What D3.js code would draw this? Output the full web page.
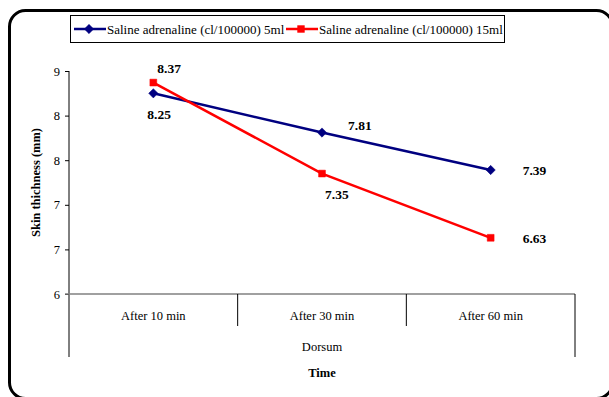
<!DOCTYPE html>
<html><head><meta charset="utf-8">
<script src="https://cdn.jsdelivr.net/npm/d3@7"></script>
<style>body{margin:0;background:#fff}svg{display:block}</style>
</head><body><svg id="c" width="609" height="397" font-family="'Liberation Serif', 'Times New Roman', Times, serif"></svg>
<script>
const categories = ["After 10 min", "After 30 min", "After 60 min"];
const groupLabel = "Dorsum";
const seriesNames = ["Saline adrenaline (cl/100000) 5ml", "Saline adrenaline (cl/100000) 15ml"];
const series5ml = [8.25, 7.81, 7.39];
const series15ml = [8.37, 7.35, 6.63];
const yTicks = [6, 6.5, 7, 7.5, 8, 8.5];
const colors = ["#000080", "#FF0000"];

(function () {
const FF = "'Liberation Serif', 'Times New Roman', Times, serif";
const svg = d3.select("#c");
// outer frame
svg.append("rect").attr("x", 9.5).attr("y", 10.5).attr("width", 603).attr("height", 388)
  .attr("rx", 16).attr("fill", "none").attr("stroke", "#000").attr("stroke-width", 3);

const pL = 69, pR = 575, pT = 71, pB = 294;
const x = d3.scaleBand().domain(categories).range([pL, pR]);
const y = d3.scaleLinear().domain([6, 8.5]).range([pB, pT]);

// y axis
const yAxis = d3.axisLeft(y).tickValues(yTicks).tickSize(4).tickFormat(d => d3.format(".0f")(Math.round(d)));
const gy = svg.append("g").attr("transform", `translate(${pL},0)`).call(yAxis).attr("font-family", FF);
gy.select(".domain").remove();
gy.selectAll("line").attr("stroke", "#000");
gy.selectAll("text").attr("font-size", 12.5).attr("fill", "#000").attr("x", -9);
svg.append("line").attr("x1", pL).attr("x2", pL).attr("y1", pT).attr("y2", 357).attr("stroke", "#000");

// x axis baseline
svg.append("line").attr("x1", pL - 4).attr("x2", pR).attr("y1", pB).attr("y2", pB).attr("stroke", "#808080").attr("stroke-width", 1.5);
// category separators
categories.forEach((c, i) => {
  if (i > 0) svg.append("line").attr("x1", x(c)).attr("x2", x(c)).attr("y1", pB).attr("y2", 326).attr("stroke", "#000");
  svg.append("text").attr("x", x(c) + x.bandwidth() / 2).attr("y", 320).attr("text-anchor", "middle")
    .attr("font-size", 12.5).text(c);
});
svg.append("line").attr("x1", pR).attr("x2", pR).attr("y1", pB).attr("y2", 357).attr("stroke", "#000");
svg.append("text").attr("x", (pL + pR) / 2).attr("y", 351).attr("text-anchor", "middle").attr("font-size", 12.5).text(groupLabel);
svg.append("text").attr("x", (pL + pR) / 2).attr("y", 377).attr("text-anchor", "middle").attr("font-size", 12.5)
  .attr("font-weight", "bold").text("Time");
svg.append("text").attr("transform", `translate(40,${(pT + pB) / 2}) rotate(-90)`).attr("text-anchor", "middle")
  .attr("font-size", 12.5).attr("font-weight", "bold").text("Skin thichness (mm)");

const cx = c => x(c) + x.bandwidth() / 2;
const line = d3.line().x((d, i) => cx(categories[i])).y(d => y(d));
const data = [series5ml, series15ml];
data.forEach((s, k) => {
  svg.append("path").datum(s).attr("d", line).attr("fill", "none").attr("stroke", colors[k]).attr("stroke-width", 2.5);
  svg.selectAll(null).data(s).enter().append("path")
    .attr("transform", (d, i) => `translate(${cx(categories[i])},${y(d)})`)
    .attr("d", d3.symbol().type(k === 0 ? d3.symbolDiamond2 : d3.symbolSquare2).size(k === 0 ? 55 : 60))
    .attr("fill", colors[k]).attr("stroke", colors[k]).attr("stroke-width", 0.5);
});

// data labels
const lab = (v, i, dx, dy) => svg.append("text").attr("x", cx(categories[i]) + dx).attr("y", y(v) + dy)
  .attr("font-size", 13.5).attr("font-weight", "bold").text(v.toFixed(2));
lab(series15ml[0], 0, 4, -10);
lab(series5ml[0], 0, -6, 26);
lab(series5ml[1], 1, 26, -3);
lab(series15ml[1], 1, 3, 25);
lab(series5ml[2], 2, 32, 5);
lab(series15ml[2], 2, 32, 5);

// legend
svg.append("rect").attr("x", 70.5).attr("y", 15.5).attr("width", 434).attr("height", 27).attr("fill", "#fff").attr("stroke", "#000");
const lx = [74, 286];
seriesNames.forEach((n, k) => {
  const g = svg.append("g");
  g.append("line").attr("x1", lx[k]).attr("x2", lx[k] + 32).attr("y1", 29).attr("y2", 29).attr("stroke", colors[k]).attr("stroke-width", 2.5);
  g.append("path").attr("transform", `translate(${lx[k] + 15},29)`)
    .attr("d", d3.symbol().type(k === 0 ? d3.symbolDiamond2 : d3.symbolSquare2).size(k === 0 ? 55 : 60))
    .attr("fill", colors[k]).attr("stroke", colors[k]).attr("stroke-width", 0.5);
  g.append("text").attr("x", lx[k] + 33).attr("y", 33.5).attr("font-size", 13).text(n);
});
})();
</script></body></html>
